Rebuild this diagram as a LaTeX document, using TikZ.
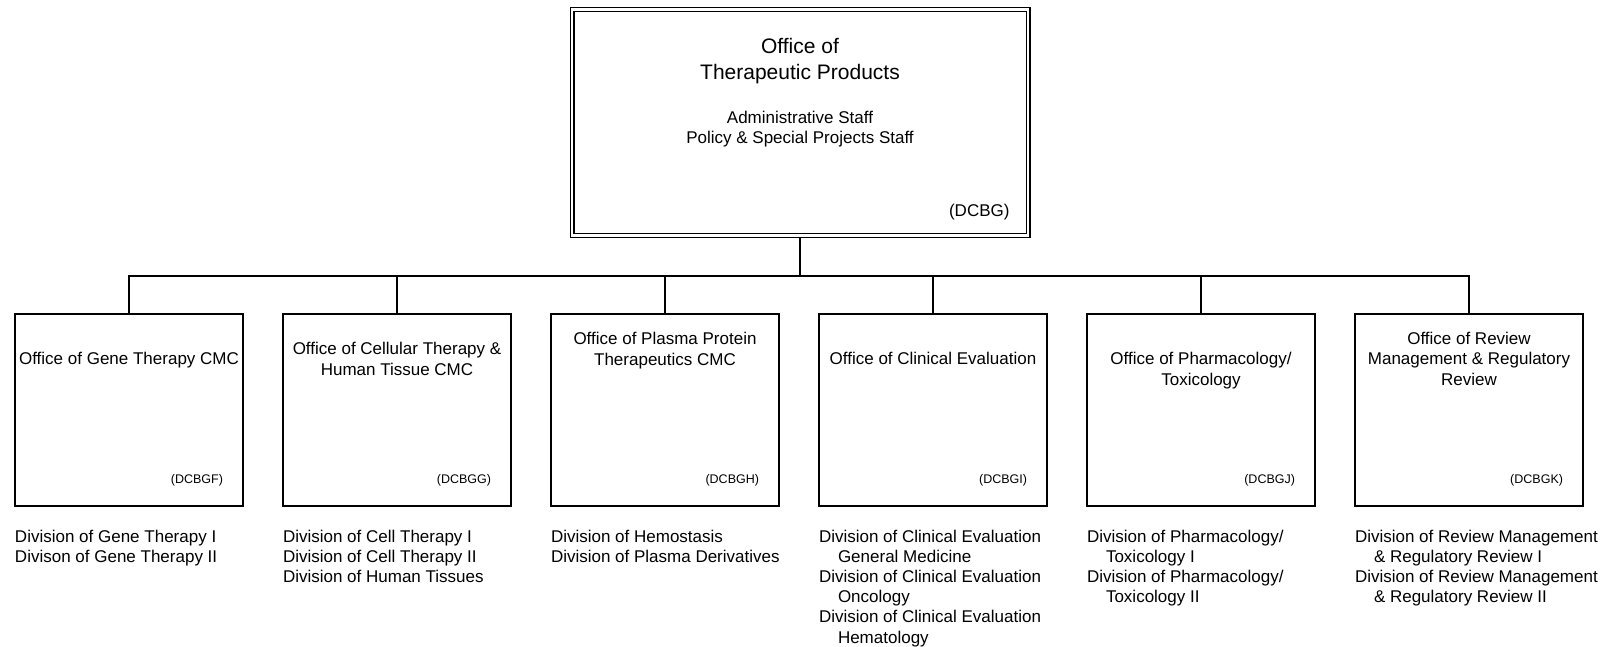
\documentclass[tikz,border=0pt]{standalone}
\usepackage{fontspec}
\setmainfont{Liberation Sans}
\usetikzlibrary{positioning}

\begin{document}
\begin{tikzpicture}[
            x=1pt, y=-1pt,
            node distance=40pt,
            every node/.style={inner sep=0pt, outer sep=0pt},
            office/.style={draw, line width=2pt, minimum width=228pt, minimum height=192pt},
            head/.style={draw, double, line width=1.4pt, double distance=2.2pt, outer sep=2.5pt, minimum width=456pt, minimum height=226pt},
            bigtitle/.style={font=\fontsize{21}{26}\selectfont, align=center, anchor=base},
            title/.style={font=\fontsize{17}{20.5}\selectfont, align=center, anchor=base},
            code/.style={font=\fontsize{12.5}{15}\selectfont, anchor=base east},
            divs/.style={font=\fontsize{17}{20.2}\selectfont, align=left, anchor=base west},
            link/.style={line width=2pt}
        ]
        \useasboundingbox (0,0) rectangle (1610,647);

        % Top office (base = last line)
        \node[head] (otp) at (800,122.5) {};
        \node[bigtitle] (otptitle) at ([yshift=-73pt]otp.north) {Office of\\Therapeutic Products};
        \node[title] (otpstaff) at ([yshift=-137pt]otp.north) {Administrative Staff\\Policy \& Special Projects Staff};
        \node[code, font=\fontsize{17}{20}\selectfont] (otpcode) at ([xshift=-21pt, yshift=21.5pt]otp.south east) {(DCBG)};

        % Offices
        \node[office] (gene) at (129,410) {};
        \node[office, right=of gene] (cell) {};
        \node[office, right=of cell] (plasma) {};
        \node[office, right=of plasma] (clin) {};
        \node[office, right=of clin] (pharm) {};
        \node[office, right=of pharm] (review) {};

        % Office names
        \node[title] (genetitle) at ([yshift=-50pt]gene.north) {Office of Gene Therapy CMC};
        \node[title] (celltitle) at ([yshift=-61pt]cell.north) {Office of Cellular Therapy \&\\Human Tissue CMC};
        \node[title] (plasmatitle) at ([yshift=-51pt]plasma.north) {Office of Plasma Protein\\Therapeutics CMC};
        \node[title] (clintitle) at ([yshift=-50pt]clin.north) {Office of Clinical Evaluation};
        \node[title] (pharmtitle) at ([yshift=-71pt]pharm.north) {Office of Pharmacology/\\Toxicology};
        \node[title] (reviewtitle) at ([yshift=-71pt]review.north) {Office of Review\\Management \& Regulatory\\Review};

        % Codes
        \node[code] (genecode) at ([xshift=-20pt, yshift=22.5pt]gene.south east) {(DCBGF)};
        \node[code] (cellcode) at ([xshift=-20pt, yshift=22.5pt]cell.south east) {(DCBGG)};
        \node[code] (plasmacode) at ([xshift=-20pt, yshift=22.5pt]plasma.south east) {(DCBGH)};
        \node[code] (clincode) at ([xshift=-20pt, yshift=22.5pt]clin.south east) {(DCBGI)};
        \node[code] (pharmcode) at ([xshift=-20pt, yshift=22.5pt]pharm.south east) {(DCBGJ)};
        \node[code] (reviewcode) at ([xshift=-20pt, yshift=22.5pt]review.south east) {(DCBGK)};

        % Divisions
        \node[divs] (genediv) at ([yshift=-56.2pt]gene.south west) {Division of Gene Therapy I\\Divison of Gene Therapy II};
        \node[divs] (celldiv) at ([yshift=-76.4pt]cell.south west) {Division of Cell Therapy I\\Division of Cell Therapy II\\Division of Human Tissues};
        \node[divs] (plasmadiv) at ([yshift=-56.2pt]plasma.south west) {Division of Hemostasis\\Division of Plasma Derivatives};
        \node[divs] (clindiv) at ([yshift=-137pt]clin.south west) {Division of Clinical Evaluation\\\hspace*{19pt}General Medicine\\Division of Clinical Evaluation\\\hspace*{19pt}Oncology\\Division of Clinical Evaluation\\\hspace*{19pt}Hematology};
        \node[divs] (pharmdiv) at ([yshift=-96.6pt]pharm.south west) {Division of Pharmacology/\\\hspace*{19pt}Toxicology I\\Division of Pharmacology/\\\hspace*{19pt}Toxicology II};
        \node[divs] (reviewdiv) at ([yshift=-96.6pt]review.south west) {Division of Review Management\\\hspace*{19pt}\& Regulatory Review I\\Division of Review Management\\\hspace*{19pt}\& Regulatory Review II};

        % Connections
        \coordinate (bus) at (800,276);
        \draw[link] (otp) -- (bus);
        \foreach \n in {gene, cell, plasma, clin, pharm, review}
            \draw[link] (\n.north) |- (bus);

    \end{tikzpicture}
\end{document}
